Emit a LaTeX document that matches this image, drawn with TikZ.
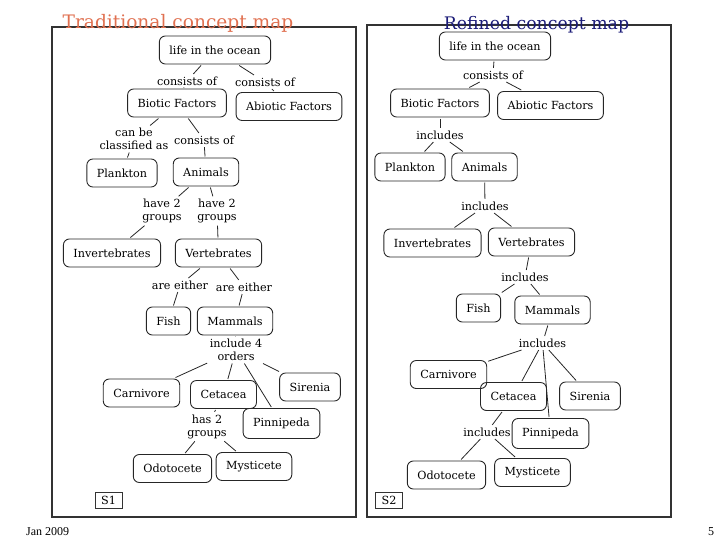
\documentclass[tikz,border=0pt]{standalone}
\usepackage{fontspec}
\setmainfont{DejaVu Serif}
\newfontfamily\footfont{Liberation Serif}
\newcommand{\mapfont}{\fontsize{11.2}{13}\selectfont}
\definecolor{titleorange}{RGB}{224,112,80}
\definecolor{titlenavy}{RGB}{28,28,120}
\tikzset{
  concept/.style={draw=black!85, line width=0.9pt, rounded corners=6pt, inner xsep=10pt, inner ysep=0pt, minimum height=28pt, outer sep=1.5pt, font=\mapfont},
  linkword/.style={inner sep=2.5pt, align=center, font=\mapfont},
  link/.style={draw=black!85, line width=0.8pt},
  frame/.style={draw=black!80, line width=1.1pt},
  slidetag/.style={draw=black!80, line width=0.8pt, inner sep=0pt, minimum width=27pt, minimum height=16pt, font=\mapfont}
}
\begin{document}
\begin{tikzpicture}[x=1pt,y=-1pt]
\useasboundingbox (0,0) rectangle (728,546);
% frames
\draw[frame] (52,27) rectangle (356,517);
\draw[frame] (367,25) rectangle (671,517);
% titles
\node[anchor=base,text=titleorange,font=\fontsize{18.6}{20}\selectfont] (T1) at (178,28) {Traditional concept map};
\node[anchor=base,text=titlenavy,font=\fontsize{17.3}{20}\selectfont] (T2) at (536.5,29.5) {Refined concept map};

% traditional map
\node[concept] (L1) at (215,50) {life in the ocean};
\node[linkword] (Lc1) at (187,81) {consists of};
\node[linkword] (Lc2) at (265,82) {consists of};
\node[concept] (L2) at (177,103) {Biotic Factors};
\node[concept] (L3) at (289,106.5) {Abiotic Factors};
\node[linkword] (Lc3) at (134,139) {can be\\classified as};
\node[linkword] (Lc4) at (204,140) {consists of};
\node[concept] (L4) at (122,173) {Plankton};
\node[concept] (L5) at (206,172) {Animals};
\node[linkword] (Lh1) at (162,211) {have 2\\groups};
\node[linkword] (Lh2) at (217,211) {have 2\\groups};
\node[concept] (L6) at (112,253) {Invertebrates};
\node[concept] (L7) at (218.5,253) {Vertebrates};
\node[linkword] (La1) at (180,285) {are either};
\node[linkword] (La2) at (244,287) {are either};
\node[concept] (L8) at (168.5,321) {Fish};
\node[concept] (L9) at (235,321) {Mammals};
\node[linkword] (Li) at (236,350) {include 4\\orders};
\node[concept] (L10) at (141.5,393) {Carnivore};
\node[concept] (L11) at (223.5,394.5) {Cetacea};
\node[concept,minimum height=30pt] (L12) at (281.5,423.5) {Pinnipeda};
\node[concept] (L13) at (310,387) {Sirenia};
\node[linkword] (Lg) at (207,426.5) {has 2\\groups};
\node[concept] (L14) at (172.5,468.5) {Odotocete};
\node[concept] (L15) at (254,466.5) {Mysticete};
\node[slidetag] (S1) at (108.5,500) {S1};

\path[link]
(L1) edge (Lc1) (Lc1) edge (L2)
(L1) edge (Lc2) (Lc2) edge (L3)
(L2) edge (Lc3) (Lc3) edge (L4)
(L2) edge (Lc4) (Lc4) edge (L5)
(L5) edge (Lh1) (Lh1) edge (L6)
(L5) edge (Lh2) (Lh2) edge (L7)
(L7) edge (La1) (La1) edge (L8)
(L7) edge (La2) (La2) edge (L9)
(L9) edge (Li)
(Li) edge (L10) (Li) edge (L11) (Li) edge (L12) (Li) edge (L13)
(L11) edge (Lg)
(Lg) edge (L14) (Lg) edge (L15);

% refined map
\node[concept] (R1) at (495,46) {life in the ocean};
\node[linkword] (Rc) at (493,75) {consists of};
\node[concept] (R2) at (440,103) {Biotic Factors};
\node[concept] (R3) at (550.5,105.5) {Abiotic Factors};
\node[linkword] (Ri1) at (440,135) {includes};
\node[concept] (R4) at (410,167) {Plankton};
\node[concept] (R5) at (484.5,167) {Animals};
\node[linkword] (Ri2) at (485,206) {includes};
\node[concept] (R6) at (432.5,243) {Invertebrates};
\node[concept] (R7) at (531.5,242) {Vertebrates};
\node[linkword] (Ri3) at (525,277) {includes};
\node[concept] (R8) at (478.5,308) {Fish};
\node[concept] (R9) at (552.5,310) {Mammals};
\node[linkword] (Ri4) at (542.5,343) {includes};
\node[concept] (R10) at (448.5,374.5) {Carnivore};
\node[concept] (R11) at (513.5,396.5) {Cetacea};
\node[concept,minimum height=30pt] (R12) at (550.5,433.5) {Pinnipeda};
\node[concept] (R13) at (590,396) {Sirenia};
\node[linkword] (Ri5) at (487,432) {includes};
\node[concept] (R14) at (446.5,475) {Odotocete};
\node[concept] (R15) at (532.5,472.5) {Mysticete};
\node[slidetag] (S2) at (389,500) {S2};

\path[link]
(R1) edge (Rc) (Rc) edge (R2) (Rc) edge (R3)
(R2) edge (Ri1) (Ri1) edge (R4) (Ri1) edge (R5)
(R5) edge (Ri2) (Ri2) edge (R6) (Ri2) edge (R7)
(R7) edge (Ri3) (Ri3) edge (R8) (Ri3) edge (R9)
(R9) edge (Ri4)
(Ri4) edge (R10) (Ri4) edge (R11) (Ri4) edge (R12) (Ri4) edge (R13)
(R11) edge (Ri5)
(Ri5) edge (R14) (Ri5) edge (R15);

% footer
\node[anchor=base west,inner sep=0pt,font=\footfont\fontsize{12}{14}\selectfont] (date) at (26,535) {Jan 2009};
\node[anchor=base,inner sep=0pt,font=\footfont\fontsize{12}{14}\selectfont] (page) at (711,535) {5};
\end{tikzpicture}
\end{document}
